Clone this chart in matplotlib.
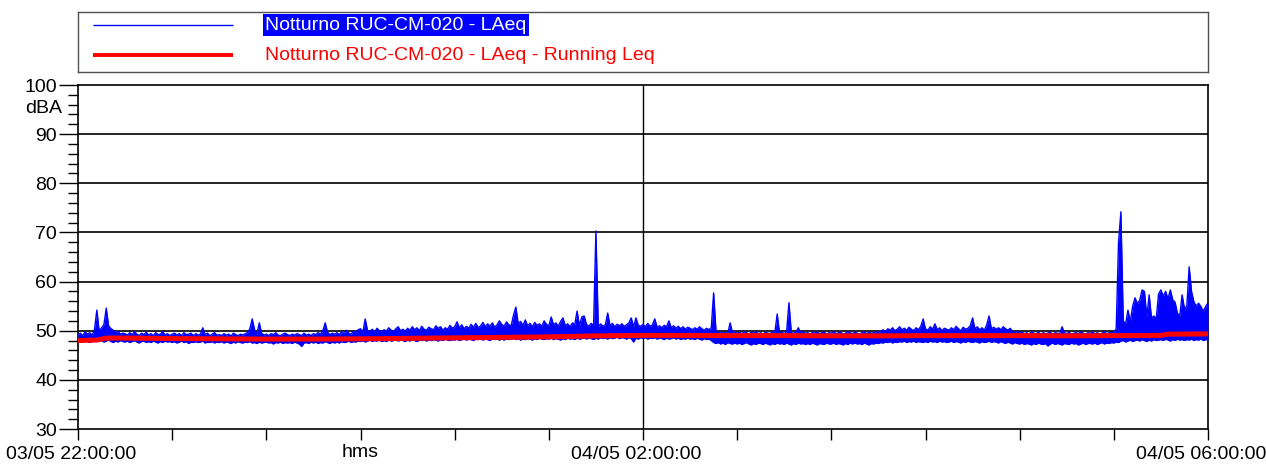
import numpy as np
import matplotlib
matplotlib.use("Agg")
import matplotlib.pyplot as plt
from matplotlib.ticker import FixedLocator, MultipleLocator
import matplotlib.transforms as mtransforms

# LAeq per minute from 22:00 to 06:00 (dBA): highest reading in each minute
laeq_max = [
    49.2, 49.5, 49.0, 49.8, 49.3, 49.6, 49.1, 50.2, 54.2, 49.9,
    50.6, 51.2, 54.6, 51.0, 50.4, 50.1, 49.6, 49.9, 49.3, 49.5,
    49.4, 49.1, 49.6, 49.2, 49.8, 49.3, 49.0, 49.5, 49.2, 49.7,
    49.1, 49.4, 49.0, 49.6, 49.2, 49.3, 49.8, 49.1, 49.4, 49.0,
    49.3, 49.5, 49.1, 49.4, 49.0, 49.6, 49.2, 49.3, 49.5, 49.0,
    49.4, 49.1, 49.3, 50.6, 49.2, 49.5, 49.0, 49.3, 49.6, 49.1,
    49.2, 49.0, 49.4, 49.1, 49.3, 48.9, 49.5, 49.2, 49.0, 49.3,
    49.1, 49.4, 49.6, 50.4, 52.4, 50.2, 49.3, 51.6, 49.5, 49.1,
    49.3, 49.0, 49.4, 49.2, 49.6, 49.1, 49.0, 49.3, 49.5, 49.2,
    49.0, 49.3, 49.1, 49.4, 49.2, 49.0, 49.5, 49.1, 49.3, 49.0,
    49.4, 49.2, 49.6, 49.3, 50.0, 51.6, 49.7, 49.2, 49.5, 49.3,
    49.6, 49.2, 49.8, 49.4, 50.1, 49.5, 49.3, 49.9, 49.6, 50.2,
    50.4, 49.7, 52.4, 50.0, 49.8, 50.3, 49.7, 50.5, 50.0, 49.8,
    50.2, 49.9, 50.6, 50.1, 49.8, 50.4, 50.8, 50.0, 50.3, 49.9,
    50.5, 50.1, 50.8, 50.2, 50.6, 50.0, 50.9, 50.3, 50.1, 50.7,
    50.4, 50.2, 51.0, 50.5, 50.8, 50.1, 50.6, 50.3, 51.1, 50.5,
    50.8, 51.8, 50.6, 51.2, 50.4, 50.9, 50.5, 51.3, 50.7, 51.5,
    50.6, 51.0, 51.7, 50.8, 51.4, 50.9, 51.6, 50.7, 51.2, 52.0,
    51.3, 50.9, 51.8, 51.2, 51.0, 53.2, 54.8, 51.4, 51.9, 51.1,
    52.2, 51.0, 51.5, 50.8, 51.7, 51.1, 51.4, 50.9, 52.0, 51.3,
    51.0, 52.8, 51.2, 51.6, 50.9, 51.9, 52.6, 51.0, 51.4, 50.8,
    51.6, 51.2, 54.0, 51.0, 52.8, 53.0, 51.3, 50.9, 51.5, 51.0,
    70.3, 50.8, 51.4, 50.9, 51.2, 53.6, 51.0, 51.5, 50.8, 51.3,
    51.0, 51.4, 50.9, 51.2, 51.6, 52.6, 50.8, 52.6, 51.1, 50.9,
    51.3, 50.8, 51.5, 50.9, 51.2, 52.4, 50.7, 51.0, 50.6, 51.1,
    50.8, 52.0, 50.6, 51.0, 50.5, 50.9, 50.4, 50.8, 50.3, 50.7,
    50.5, 50.2, 50.6, 50.3, 50.8, 50.4, 50.1, 50.5, 50.2, 50.6,
    57.7, 50.0, 49.6, 49.8, 49.5, 49.7, 49.4, 51.6, 49.6, 49.8,
    49.5, 49.7, 49.4, 49.8, 49.6, 49.3, 49.7, 49.5, 49.8, 49.4,
    49.6, 49.3, 49.7, 49.5, 49.4, 49.8, 49.6, 53.4, 49.5, 49.7,
    49.4, 49.8, 55.7, 49.6, 49.5, 49.7, 50.6, 49.4, 49.8, 49.5,
    49.6, 49.3, 49.7, 49.5, 49.8, 49.4, 49.6, 49.7, 49.3, 49.6,
    49.5, 49.8, 49.4, 49.6, 49.7, 49.3, 49.5, 49.8, 49.6, 49.4,
    49.7, 49.5, 49.3, 49.6, 49.8, 49.4, 49.7, 49.5, 49.6, 49.8,
    49.6, 49.9, 50.2, 49.8, 50.4, 50.1, 50.6, 50.0, 50.3, 50.8,
    50.2, 50.5, 50.1, 50.7, 50.3, 50.0, 50.6, 50.2, 50.9, 52.4,
    50.4, 50.1, 50.8, 50.3, 51.4, 50.2, 50.6, 50.0, 50.5, 50.3,
    50.1, 50.6, 50.2, 50.9, 50.4, 50.0, 50.7, 50.3, 50.5, 51.0,
    52.6, 50.4, 50.8, 50.2, 50.6, 50.1, 51.2, 53.0, 50.4, 50.7,
    50.3, 50.6, 50.2, 50.8, 50.4, 50.1, 50.5, 49.8, 49.6, 49.9,
    49.5, 49.7, 49.4, 49.6, 49.3, 49.8, 49.5, 49.4, 49.7, 49.3,
    49.6, 49.4, 49.5, 49.7, 49.3, 49.6, 49.5, 49.4, 50.8, 49.6,
    49.4, 49.7, 49.3, 49.5, 49.6, 49.4, 49.8, 49.5, 49.3, 49.6,
    49.5, 49.7, 49.4, 49.6, 49.3, 49.5, 49.8, 49.4, 49.6, 49.7,
    49.6, 50.4, 68.0, 74.2, 52.0, 51.4, 54.2, 51.8, 55.0, 56.7,
    55.5, 56.2, 58.3, 58.0, 52.8, 57.3, 52.6, 53.0, 52.4, 57.5,
    58.3, 57.0, 58.0, 56.5, 58.3, 56.3, 55.8, 53.6, 53.0, 57.3,
    54.5, 55.0, 63.0, 58.0, 55.9, 55.0, 55.6, 54.9, 54.0, 54.9,
    55.7,
]

# LAeq per minute (dBA): lowest reading in each minute
laeq_min = [
    47.8, 47.9, 47.7, 48.0, 47.8, 47.6, 47.9, 48.1, 47.8, 47.9,
    48.0, 47.7, 47.9, 48.1, 47.8, 47.6, 47.9, 47.7, 48.0, 47.8,
    47.7, 47.9, 47.6, 47.8, 48.0, 47.7, 47.5, 47.8, 47.9, 47.6,
    47.8, 47.6, 47.9, 47.7, 47.5, 47.8, 47.6, 47.9, 47.7, 47.8,
    47.6, 47.8, 47.5, 47.7, 47.9, 47.6, 47.8, 47.4, 47.7, 47.6,
    47.8, 47.6, 47.7, 47.9, 47.5, 47.7, 47.6, 47.8, 47.5, 47.7,
    47.6, 47.8, 47.5, 47.7, 47.6, 47.4, 47.7, 47.5, 47.8, 47.6,
    47.5, 47.7, 47.6, 47.8, 47.5, 47.6, 47.4, 47.7, 47.5, 47.6,
    47.7, 47.5, 47.6, 47.3, 47.6, 47.5, 47.7, 47.4, 47.6, 47.5,
    47.6, 47.4, 47.7, 47.5, 47.3, 46.8, 47.5, 47.6, 47.4, 47.7,
    47.5, 47.7, 47.4, 47.6, 47.5, 47.8, 47.6, 47.4, 47.7, 47.5,
    47.7, 47.5, 47.8, 47.6, 47.7, 47.9, 47.6, 47.8, 47.7, 47.9,
    47.8, 48.0, 47.7, 47.9, 48.1, 47.8, 48.0, 47.9, 48.1, 47.8,
    48.0, 47.8, 48.1, 47.9, 48.0, 48.2, 47.9, 48.1, 48.0, 47.8,
    48.1, 47.9, 48.2, 48.0, 47.8, 48.1, 48.0, 48.2, 47.9, 48.1,
    48.0, 48.2, 48.1, 47.9, 48.2, 48.0, 48.3, 48.1, 48.0, 48.2,
    48.1, 48.3, 48.0, 48.2, 48.4, 48.1, 48.3, 48.2, 48.0, 48.3,
    48.2, 48.4, 48.1, 48.3, 48.2, 48.0, 48.4, 48.2, 48.3, 48.1,
    48.3, 48.1, 48.4, 48.2, 48.3, 48.5, 48.2, 48.4, 48.1, 48.3,
    48.2, 48.4, 48.3, 48.1, 48.4, 48.2, 48.5, 48.3, 48.2, 48.4,
    48.3, 48.5, 48.2, 48.4, 48.3, 48.1, 48.4, 48.2, 48.5, 48.3,
    48.4, 48.2, 48.5, 48.3, 48.4, 48.6, 48.3, 48.5, 48.4, 48.2,
    48.5, 48.3, 48.6, 48.4, 48.5, 48.3, 48.6, 48.4, 48.5, 48.7,
    48.4, 48.6, 48.5, 48.3, 48.6, 48.4, 47.7, 48.5, 48.3, 48.6,
    48.4, 48.6, 48.3, 48.5, 48.4, 48.6, 48.3, 48.5, 48.4, 48.2,
    48.5, 48.3, 48.4, 48.6, 48.3, 48.5, 48.2, 48.4, 48.3, 48.5,
    48.3, 48.4, 48.2, 48.5, 48.3, 48.1, 48.4, 48.2, 48.3, 48.0,
    47.6, 47.4, 47.6, 47.3, 47.5, 47.2, 47.6, 47.4, 47.3, 47.5,
    47.3, 47.5, 47.2, 47.4, 47.6, 47.3, 47.1, 47.4, 47.2, 47.5,
    47.4, 47.2, 47.5, 47.3, 47.1, 47.4, 47.2, 47.5, 47.3, 47.4,
    47.2, 47.5, 47.3, 47.1, 47.4, 47.2, 47.5, 47.3, 47.4, 47.2,
    47.4, 47.2, 47.5, 47.3, 47.1, 47.4, 47.3, 47.2, 47.5, 47.3,
    47.3, 47.5, 47.2, 47.4, 47.3, 47.1, 47.4, 47.2, 47.5, 47.3,
    47.5, 47.3, 47.4, 47.2, 47.5, 47.3, 47.1, 47.4, 47.3, 47.5,
    47.4, 47.6, 47.5, 47.7, 47.6, 47.8, 47.5, 47.7, 47.6, 47.8,
    47.7, 47.9, 47.6, 47.8, 47.7, 47.9, 47.6, 47.8, 47.7, 47.6,
    47.8, 47.6, 47.9, 47.7, 47.8, 47.6, 47.9, 47.7, 47.8, 47.6,
    47.7, 47.9, 47.6, 47.8, 47.7, 47.5, 47.8, 47.6, 47.9, 47.7,
    47.6, 47.8, 47.7, 47.5, 47.8, 47.6, 47.7, 47.9, 47.6, 47.8,
    47.7, 47.5, 47.8, 47.6, 47.4, 47.7, 47.5, 47.3, 47.6, 47.4,
    47.3, 47.5, 47.2, 47.4, 47.3, 47.1, 47.4, 47.2, 47.5, 47.3,
    47.2, 47.4, 46.9, 47.3, 47.5, 47.2, 47.4, 47.3, 47.1, 47.4,
    47.3, 47.2, 47.5, 47.3, 47.4, 47.1, 47.3, 47.5, 47.2, 47.4,
    47.4, 47.3, 47.5, 47.2, 47.4, 47.6, 47.3, 47.5, 47.4, 47.6,
    47.5, 47.7, 47.6, 47.9, 48.0, 47.7, 47.9, 48.1, 47.8, 48.0,
    48.1, 47.9, 48.2, 48.0, 47.8, 48.1, 47.9, 48.2, 48.0, 48.1,
    48.2, 48.0, 48.3, 48.1, 47.9, 48.2, 48.0, 48.3, 48.1, 48.2,
    48.0, 48.2, 48.1, 48.3, 48.0, 48.2, 48.1, 48.3, 48.0, 48.2,
    48.1,
]

# Running Leq (dBA)
run_minutes = [0, 8, 12, 20, 40, 60, 80, 100, 120, 140, 160, 180, 200, 220,
               240, 260, 280, 300, 320, 340, 360, 380, 400, 420, 440, 460,
               463, 480]
running_leq = [48.0, 48.1, 48.5, 48.5, 48.4, 48.35, 48.3, 48.3, 48.35, 48.45,
               48.55, 48.65, 48.75, 48.95, 49.05, 49.05, 49.0, 49.0, 48.95,
               48.95, 49.0, 49.0, 49.0, 48.95, 49.0, 49.05, 49.3, 49.35]

x_tick_minutes = [0, 240, 480]
x_tick_labels = ["03/05 22:00:00", "04/05 02:00:00", "04/05 06:00:00"]
y_ticks = [30, 40, 50, 60, 70, 80, 90, 100]
series_names = ["Notturno RUC-CM-020 - LAeq",
                "Notturno RUC-CM-020 - LAeq - Running Leq"]

plt.rcParams["font.family"] = ["Liberation Sans", "DejaVu Sans"]
FS = 14
BLUE = "#0000ff"
RED = "#ff0000"

W, H = 1266, 465
fig = plt.figure(figsize=(W / 100, H / 100), dpi=100)
ax = fig.add_axes([78 / W, (H - 429) / H, 1130 / W, 344 / H])

minutes = np.arange(len(laeq_max))
ax.fill_between(minutes, laeq_min, laeq_max, color=BLUE, lw=0, zorder=3)
ax.plot(minutes, laeq_max, color=BLUE, lw=1.0, zorder=3)
ax.plot(minutes, laeq_min, color=BLUE, lw=1.0, zorder=3)
ax.plot(run_minutes, running_leq, color=RED, lw=3.6, zorder=4,
        solid_capstyle="butt")

ax.set_xlim(0, 480)
ax.set_ylim(30, 100)

# grid: horizontal every 10 dB, vertical at the middle time label
for y in y_ticks[1:-1]:
    ax.axhline(y, color="black", lw=1.2, zorder=1)
for xm in x_tick_minutes[1:-1]:
    ax.axvline(xm, color="black", lw=1.0, zorder=1)

for s in ax.spines.values():
    s.set_color("black")
    s.set_linewidth(1.2)

ax.yaxis.set_major_locator(FixedLocator(y_ticks))
ax.yaxis.set_minor_locator(MultipleLocator(2))
ax.tick_params(axis="y", which="major", length=14, width=1.0, labelsize=FS,
               pad=1, direction="out")
ax.tick_params(axis="y", which="minor", length=7, width=1.0, direction="out")

ax.xaxis.set_major_locator(FixedLocator(x_tick_minutes))
ax.xaxis.set_minor_locator(MultipleLocator(40))
ax.set_xticklabels(x_tick_labels)
ax.tick_params(axis="x", which="both", length=8, width=1.0, labelsize=FS,
               pad=4, direction="out")
shift = mtransforms.ScaledTranslation(-7 / 100, 0, fig.dpi_scale_trans)
for lab in ax.get_xticklabels():
    lab.set_transform(lab.get_transform() + shift)

ax.text(120, -0.045, "hms", transform=ax.get_xaxis_transform(),
        ha="center", va="top", fontsize=FS)
ax.text(-0.014, 95.3, "dBA", transform=ax.get_yaxis_transform(),
        ha="right", va="center", fontsize=FS)

# legend panel above the plot (local pixel-like coordinates)
lax = fig.add_axes([78 / W, (H - 72) / H, 1130 / W, 60 / H])
lax.set_xlim(0, 1130)
lax.set_ylim(60, 0)
lax.set_xticks([])
lax.set_yticks([])
for s in lax.spines.values():
    s.set_color("#505050")
    s.set_linewidth(1.0)
legend_colors = [BLUE, RED]
legend_widths = [1.0, 2.8]
for row, (name, col, lw) in enumerate(zip(series_names, legend_colors,
                                          legend_widths)):
    yy = 13 + 30 * row
    lax.plot([15, 155], [yy, yy], color=col, lw=lw, solid_capstyle="butt")
    t = lax.text(187, yy, name, va="center", ha="left", fontsize=FS,
                 color=("white" if row == 0 else col))
    if row == 0:
        t.set_bbox(dict(facecolor=BLUE, edgecolor="none", pad=1.5))

fig.savefig("out.png", dpi=100)
